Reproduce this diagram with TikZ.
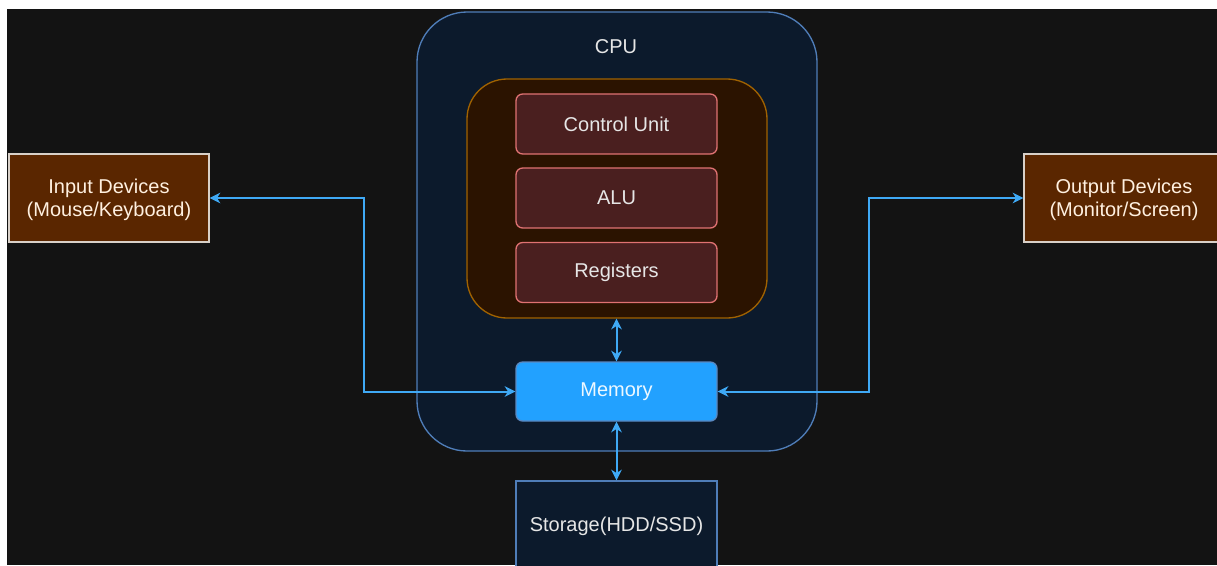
\documentclass[tikz,border=0pt]{standalone}
\usepackage{fontspec}
\setmainfont{Liberation Sans}
\usetikzlibrary{arrows.meta}
\definecolor{bg}{HTML}{131313}
\definecolor{cpufill}{HTML}{0C1A2C}
\definecolor{cpuline}{HTML}{4F7DB8}
\definecolor{corefill}{HTML}{2B1300}
\definecolor{coreline}{HTML}{A06200}
\definecolor{unitfill}{HTML}{4A1F1F}
\definecolor{unitline}{HTML}{E07272}
\definecolor{memfill}{HTML}{22A1FF}
\definecolor{memline}{HTML}{5A88C0}
\definecolor{iofill}{HTML}{5A2600}
\definecolor{ioline}{HTML}{D8D0C8}
\definecolor{arrowc}{HTML}{3FA9F5}
\definecolor{txt}{HTML}{E6E6E6}
\begin{document}
\begin{tikzpicture}[x=0.75pt,y=-0.75pt,
  every node/.style={font=\fontsize{15}{17.25}\selectfont, inner sep=0pt, align=center},
  cpubox/.style={draw=cpuline, fill=cpufill, line width=1pt, rounded corners=37.5pt, minimum width=300pt, minimum height=329.25pt},
  corebox/.style={draw=coreline, fill=corefill, line width=1pt, rounded corners=30pt, minimum width=225pt, minimum height=179.25pt},
  unitbox/.style={draw=unitline, fill=unitfill, line width=1pt, rounded corners=5pt, minimum width=150.75pt, minimum height=45pt, text=txt},
  membox/.style={draw=memline, fill=memfill, line width=1pt, rounded corners=5pt, minimum width=150.75pt, minimum height=44.25pt, text=white!92!memfill},
  iobox/.style={draw=ioline, fill=iofill, line width=1pt, minimum width=150pt, minimum height=66pt, text=white!88!orange},
  stobox/.style={draw=cpuline, fill=cpufill, line width=1pt, minimum width=150.75pt, minimum height=67.5pt, text=txt},
  conn/.style={draw=arrowc, line width=1.5pt, {Stealth[length=8pt,width=8pt,inset=2.5pt]}-{Stealth[length=8pt,width=8pt,inset=2.5pt]}}
]
\useasboundingbox (0,0) rectangle (1217,565);
\fill[white] (0,0) rectangle (1217,565);
\fill[bg] (7,9) rectangle (1217,565);

\node[cpubox] (cpu) at (617,231.5) {};
\node[text=txt] (cpulabel) at (616,47) {CPU};
\node[corebox] (core) at (617,198.5) {};
\node[unitbox] (cu) at (616.5,124) {Control Unit};
\node[unitbox] (alu) at (616.5,198) {ALU};
\node[unitbox] (reg) at (616.5,272.5) {Registers};
\node[membox] (mem) at (616.5,391.5) {Memory};
\node[iobox] (in) at (109,198) {\rule{0pt}{13pt}Input Devices\\(Mouse/Keyboard)};
\node[iobox] (out) at (1124,198) {\rule{0pt}{13pt}Output Devices\\(Monitor/Screen)};
\node[stobox] (sto) at (616.5,526) {Storage(HDD/SSD)};

\draw[conn] (in.east) -- ++(154,0) |- (mem.west);
\draw[conn] (out.west) -- ++(-154,0) |- (mem.east);
\draw[conn] (core.south -| mem.north) -- (mem.north);
\draw[conn] (mem.south) -- (sto.north);
\end{tikzpicture}
\end{document}
